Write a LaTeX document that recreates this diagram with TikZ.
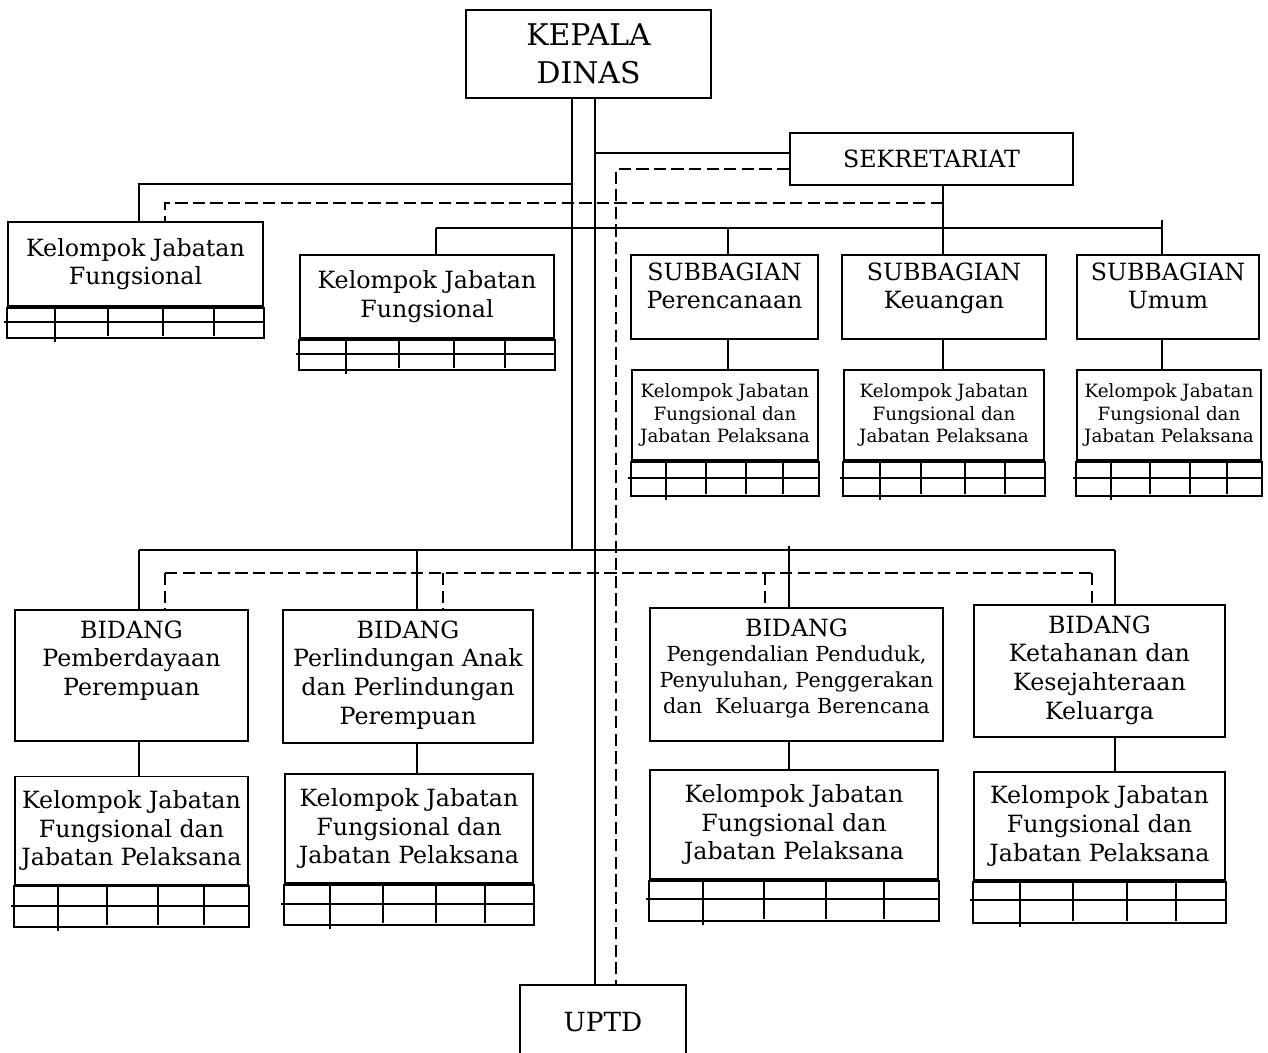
\documentclass[tikz,border=0pt]{standalone}
\usepackage{fontspec}
\setmainfont{DejaVu Serif}
\usetikzlibrary{positioning}
\tikzset{
  kotak/.style={draw, line width=1pt, align=center, inner sep=0pt},
  teks/.style={align=center, inner sep=0pt},
  garis/.style={line width=1pt},
  putus/.style={line width=1pt, dash pattern=on 7pt off 3pt},
  besar/.style={font=\fontsize{13.5}{16.3}\selectfont},
  kecil/.style={font=\fontsize{10.4}{12.8}\selectfont},
}
% tabel di bawah kotak: node, garis tengah, tinggi, kolom pertama, kolom lain
\newcommand{\tabel}[5]{%
  \draw[line width=2pt] (#1.south west) -- (#1.south east);
  \draw[garis] (#1.south west) -- ++(0,#3) -| (#1.south east);
  \path (#1.south west) ++(-3,#2) coordinate (#1-m);
  \draw[garis] (#1-m) -- (#1-m -| #1.south east);
  \draw[garis] (#1.south west) ++(#4,0) -- ++(0,#3+4);
  \foreach \d in {#5} \draw[garis] (#1.south west) ++(\d,0) -- ++(0,#3-2);
}

\begin{document}
\begin{tikzpicture}[x=0.02cm, y=-0.02cm]
  \useasboundingbox (0,0) rectangle (1268,1053);
  \clip (0,0) rectangle (1268,1053);

  \node[kotak, minimum width=4.9cm, minimum height=1.76cm,
    font=\fontsize{17}{21.5}\selectfont] (kepala) at (588.5,54) {KEPALA\\DINAS};
  \node[kotak, besar, minimum width=5.66cm, minimum height=1.04cm] (sekre) at (931.5,159) {SEKRETARIAT};

  \node[kotak, besar, minimum width=5.1cm, minimum height=1.68cm] (kjf1) at (135.5,264) {Kelompok Jabatan\\Fungsional};
  \node[kotak, besar, minimum width=5.08cm, minimum height=1.66cm] (kjf2) at (427,296.5) {Kelompok Jabatan\\Fungsional};
  \tabel{kjf1}{15}{31}{48}{101,156,207}
  \tabel{kjf2}{15}{31}{47}{100,155,206}

  \node[kotak, besar, text depth=12.7pt, minimum width=3.74cm, minimum height=1.68cm] (sub1) at (724.5,297) {SUBBAGIAN\\Perencanaan};
  \node[kotak, besar, text depth=12.7pt, minimum width=4.08cm, minimum height=1.68cm] (sub2) at (944,297) {SUBBAGIAN\\Keuangan};
  \node[kotak, besar, text depth=12.7pt, minimum width=3.64cm, minimum height=1.68cm] (sub3) at (1168,297) {SUBBAGIAN\\Umum};

  \node[kotak, kecil, minimum width=3.72cm, minimum height=1.8cm] (ks1) at (725,415) {Kelompok Jabatan\\Fungsional dan\\Jabatan Pelaksana};
  \node[kotak, kecil, minimum width=4.0cm, minimum height=1.8cm] (ks2) at (944,415) {Kelompok Jabatan\\Fungsional dan\\Jabatan Pelaksana};
  \node[kotak, kecil, minimum width=3.68cm, minimum height=1.8cm] (ks3) at (1169,415) {Kelompok Jabatan\\Fungsional dan\\Jabatan Pelaksana};
  \tabel{ks1}{17}{35}{35}{75,115,152}
  \tabel{ks2}{17}{35}{37}{78,122,162}
  \tabel{ks3}{17}{35}{35}{74,114,151}

  \node[kotak, minimum width=4.66cm, minimum height=2.62cm] (bid1) at (131.5,675.5) {};
  \node[kotak, minimum width=5.0cm, minimum height=2.66cm] (bid2) at (408,676.5) {};
  \node[kotak, minimum width=5.86cm, minimum height=2.66cm] (bid3) at (796.5,674.5) {};
  \node[kotak, minimum width=5.02cm, minimum height=2.64cm] (bid4) at (1099.5,671) {};
  \node[teks, besar, below=6.4pt of bid1.north] (bid1-t) {BIDANG\\Pemberdayaan\\Perempuan};
  \node[teks, besar, below=6.4pt of bid2.north] (bid2-t) {BIDANG\\Perlindungan Anak\\dan Perlindungan\\Perempuan};
  \node[teks, font=\fontsize{11.8}{14.6}\selectfont, below=6.4pt of bid3.north] (bid3-t)
    {{\fontsize{13.5}{16.3}\selectfont BIDANG}\\Pengendalian Penduduk,\\Penyuluhan, Penggerakan\\dan~ Keluarga Berencana};
  \node[teks, besar, below=6.4pt of bid4.north] (bid4-t) {BIDANG\\Ketahanan dan\\Kesejahteraan\\Keluarga};

  \node[kotak, besar, minimum width=4.66cm, minimum height=2.16cm] (kel1) at (131.5,830.5) {Kelompok Jabatan\\Fungsional dan\\Jabatan Pelaksana};
  \node[kotak, besar, minimum width=4.96cm, minimum height=2.18cm] (kel2) at (409,828.5) {Kelompok Jabatan\\Fungsional dan\\Jabatan Pelaksana};
  \node[kotak, besar, minimum width=5.76cm, minimum height=2.18cm] (kel3) at (794,824.5) {Kelompok Jabatan\\Fungsional dan\\Jabatan Pelaksana};
  \node[kotak, besar, minimum width=5.02cm, minimum height=2.16cm] (kel4) at (1099.5,826) {Kelompok Jabatan\\Fungsional dan\\Jabatan Pelaksana};
  \tabel{kel1}{21}{42}{44}{93,144,190}
  \tabel{kel2}{20}{41}{46}{99,152,201}
  \tabel{kel3}{19}{41}{54}{115,177,235}
  \tabel{kel4}{19}{42}{47}{100,154,203}

  \node[kotak, minimum width=3.32cm, minimum height=1.48cm,
    font=\fontsize{15}{18}\selectfont] (uptd) at (603,1022) {UPTD};

  % garis komando
  \coordinate (kiri) at (572,550);
  \coordinate (kanan) at (595,153);
  \coordinate (c1) at (139,184);
  \draw[garis] (kepala.south -| kiri) -- (kiri);
  \draw[garis] (kepala.south -| kanan) -- (uptd.north -| kanan);
  \draw[garis] (kanan) -- (kanan -| sekre.west);
  \draw[garis] (c1 -| kiri) -- (c1) -- (c1 |- kjf1.north);

  \coordinate (s0) at (436,228);
  \coordinate (s1) at (728,228);
  \coordinate (s2) at (943,228);
  \coordinate (s3) at (1162,228);
  \draw[garis] (s0) -- (s3);
  \draw[garis] (s2 |- sekre.south) -- (s2 |- sub2.north);
  \draw[garis] (s0) -- (s0 |- kjf2.north);
  \draw[garis] (s1) -- (s1 |- sub1.north);
  \draw[garis] (s3) ++(0,-8) -- (s3 |- sub3.north);
  \foreach \i in {1,2,3}
    \draw[garis] (s\i |- sub\i.south) -- (s\i |- ks\i.north);

  \coordinate (b1) at (139,550);
  \coordinate (b2) at (417,550);
  \coordinate (b3) at (789,550);
  \coordinate (b4) at (1115,550);
  \draw[garis] (b1) -- (b4);
  \draw[garis] (b3) ++(0,-4) -- (b3);
  \foreach \i in {1,...,4} {
    \draw[garis] (b\i) -- (b\i |- bid\i.north);
    \draw[garis] (b\i |- bid\i.south) -- (b\i |- kel\i.north);
  }

  % garis koordinasi
  \coordinate (pt) at (616,169);
  \coordinate (p1) at (165,203);
  \draw[putus] (pt -| sekre.west) -- (pt) -- (pt |- uptd.north);
  \draw[putus] (p1 -| s2) -- (p1) -- (p1 |- kjf1.north);

  \coordinate (d1) at (165,573);
  \coordinate (d2) at (443,573);
  \coordinate (d3) at (765,573);
  \coordinate (d4) at (1092,573);
  \draw[putus] (d1) -- (d4);
  \foreach \i in {1,...,4}
    \draw[putus] (d\i) -- (d\i |- bid\i.north);
\end{tikzpicture}
\end{document}
